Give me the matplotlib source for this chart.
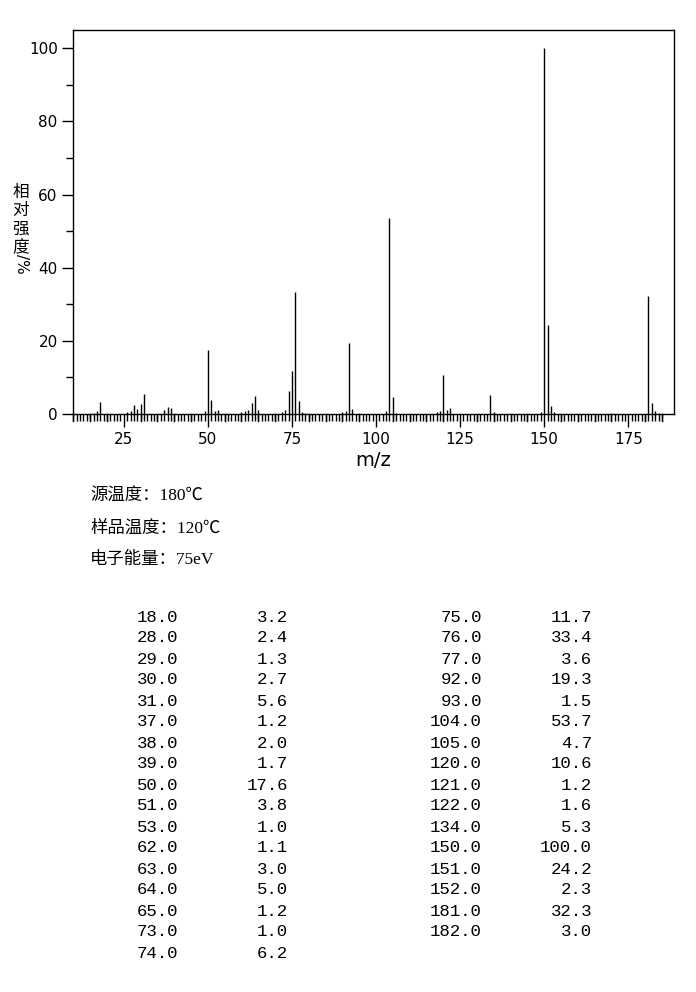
import matplotlib
matplotlib.use("Agg")
import matplotlib.pyplot as plt
import numpy as np
from matplotlib.ticker import MultipleLocator

# Peak list (m/z, relative intensity %)
mz = [18, 28, 29, 30, 31, 37, 38, 39, 50, 51, 53, 62, 63, 64, 65, 73, 74,
      75, 76, 77, 92, 93, 104, 105, 120, 121, 122, 134, 150, 151, 152, 181, 182]
intensity = [3.2, 2.4, 1.3, 2.7, 5.6, 1.2, 2.0, 1.7, 17.6, 3.8, 1.0, 1.1, 3.0, 5.0, 1.2, 1.0, 6.2,
             11.7, 33.4, 3.6, 19.3, 1.5, 53.7, 4.7, 10.6, 1.2, 1.6, 5.3, 100.0, 24.2, 2.3, 32.3, 3.0]

# Weak peaks below the listing threshold
minor_mz = [16, 17, 26, 27, 49, 52, 60, 61, 72, 78, 79, 90, 91, 103, 106,
            118, 119, 135, 149, 153, 183, 184]
minor_int = [0.4, 0.8, 0.5, 0.7, 0.7, 0.8, 0.5, 0.7, 0.5, 0.6, 0.4, 0.5, 0.7, 0.8, 0.4,
             0.5, 0.7, 0.6, 0.6, 0.5, 0.7, 0.4]

info_lines = ["源温度：180℃", "样品温度：120℃", "电子能量：75eV"]

W, H = 696, 992
fig = plt.figure(figsize=(W / 100, H / 100), dpi=100)

ax = fig.add_axes([73 / W, 1 - 414 / H, (674 - 73) / W, (414 - 30) / H])
ax.vlines(minor_mz, 0, minor_int, color="black", lw=1.0)
ax.vlines(mz, 0, intensity, color="black", lw=1.0)
ax.set_xlim(9.9, 188.6)
ax.set_ylim(0, 105)

for s in ax.spines.values():
    s.set_linewidth(1.0)
    s.set_color("black")

# x ticks: labelled every 25, longer every 5, short every unit
ax.set_xticks([25, 50, 75, 100, 125, 150, 175])
ax.tick_params(axis="x", which="major", direction="out", length=9, width=1,
               labelsize=11, pad=4, colors="black")
ax.set_xticks([m for m in range(10, 186) if m % 25 != 0], minor=True)
ax.tick_params(axis="x", which="minor", direction="out", length=5, width=1)
for m in range(10, 186):
    if m % 5 == 0 and m % 25 != 0:
        ax.plot([m, m], [0, -1.9], color="black", lw=1, clip_on=False)

ax.set_yticks([0, 20, 40, 60, 80, 100])
ax.yaxis.set_minor_locator(MultipleLocator(10))
ax.tick_params(axis="y", which="major", direction="out", length=8, width=1,
               labelsize=11, pad=3)
ax.tick_params(axis="y", which="minor", direction="out", length=5, width=1)
ax.tick_params(top=False, right=False)

ax.set_xlabel("m/z", fontsize=14, labelpad=3, family="DejaVu Sans")

# Vertical stacked y-axis label
cjk = ["Noto Sans CJK SC", "DejaVu Sans"]
for i, ch in enumerate("相对强度"):
    fig.text(21 / W, 1 - (192 + i * 18.5) / H, ch, ha="center", va="center",
             fontsize=12, family=cjk)
fig.text(21 / W, 1 - 264 / H, "/%", ha="center", va="center", rotation=270,
         fontsize=11, family="DejaVu Sans")

# Acquisition conditions
serif = ["Liberation Serif", "Noto Sans CJK SC"]
for i, line in enumerate(info_lines):
    fig.text(90 / W, 1 - (497 + i * 31.5) / H, line, ha="left", va="center",
             fontsize=12.5, family=serif)

# Peak table in two column pairs
n_left = 17
cols_right_edges = [(178, 288), (482, 592)]
groups = [(mz[:n_left], intensity[:n_left]), (mz[n_left:], intensity[n_left:])]
for (xa, xb), (gm, gi) in zip(cols_right_edges, groups):
    for r, (m, v) in enumerate(zip(gm, gi)):
        y = 1 - (617 + r * 21) / H
        fig.text(xa / W, y, f"{m:.1f}", ha="right", va="center",
                 fontsize=12.5, family="Liberation Mono")
        fig.text(xb / W, y, f"{v:.1f}", ha="right", va="center",
                 fontsize=12.5, family="Liberation Mono")

fig.savefig("out.png", dpi=100, facecolor="white")
